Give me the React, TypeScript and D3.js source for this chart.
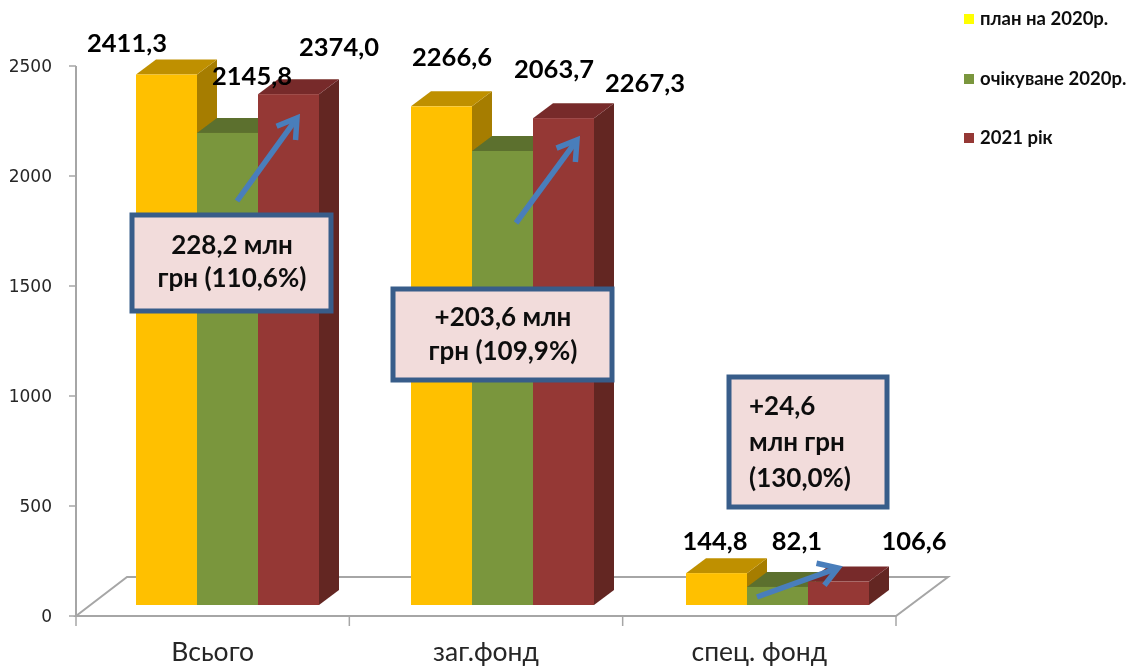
import React from "react";
import * as d3 from "d3";

const categories = ["Всього", "заг.фонд", "спец. фонд"];
const seriesNames = ["план на 2020р.", "очікуване 2020р.", "2021 рік"];
const planValues = [2411.3, 2266.6, 144.8];
const expectedValues = [2145.8, 2063.7, 82.1];
// Heights as drawn in the picture (the red bars stand lower than their printed labels)
const year2021Values = [2322, 2213, 106.6];
const planLabels = ["2411,3", "2266,6", "144,8"];
const expectedLabels = ["2145,8", "2063,7", "82,1"];
const year2021Labels = ["2374,0", "2267,3", "106,6"];
const yTicks = [0, 500, 1000, 1500, 2000, 2500];

const frontColors = ["#ffc000", "#7a963c", "#953735"];
const topColors = ["#bf9000", "#5c702d", "#772c2a"];
const sideColors = ["#a67d00", "#4f6127", "#632523"];
const legendColors = ["#ffff00", "#7a963c", "#953735"];

const labelPos = [
  [[127, 52], [252, 85], [339, 56]],
  [[452, 66], [554, 78], [645, 92]],
  [[715, 550], [797, 550], [914, 550]],
];
const legendY = [19, 79, 138];
const boxes = [
  { x: 132, y: 215, w: 199, h: 96, lines: ["228,2 млн", "грн (110,6%)"], tx: 232, anchor: "middle", ly: [254, 287] },
  { x: 393, y: 289, w: 219, h: 91, lines: ["+203,6 млн", "грн (109,9%)"], tx: 503, anchor: "middle", ly: [326, 360] },
  { x: 729, y: 377, w: 158, h: 130, lines: ["+24,6", "млн грн", "(130,0%)"], tx: 749, anchor: "start", ly: [415, 451, 487] },
];
const arrows = [
  { from: [237, 201], to: [297, 118] },
  { from: [516, 223], to: [577, 140] },
  { from: [757, 597], to: [838, 568] },
];

const FONT = "Lato, Carlito, sans-serif";
const DX = 20;
const DY = -15;
const FLOOR_LIFT = 11;

export default function App() {
  const y = d3.scaleLinear().domain([0, 2500]).range([616, 66]);
  const axisX = d3.scaleLinear().domain([0, 3]).range([76, 896]);
  const group = d3.scaleBand().domain(categories).range([136, 961]);
  const inner = d3.scaleBand().domain(seriesNames).range([0, 183]);
  const series = [planValues, expectedValues, year2021Values];
  const allLabels = [planLabels, expectedLabels, year2021Labels];
  const base = y(0) - FLOOR_LIFT;
  const w = inner.bandwidth();
  const poly = (pts: number[][]) => d3.line()(pts as [number, number][]) + "Z";

  return (
    <svg width={1130} height={671} style={{ position: "absolute", left: 0, top: 0, background: "#fff" }}>
      <defs>
        <filter id="soft" x="-5%" y="-5%" width="110%" height="110%">
          <feGaussianBlur stdDeviation="0.45" />
        </filter>
      </defs>
      <g filter="url(#soft)">
        {/* floor */}
        <path
          d={poly([[axisX(0), y(0)], [axisX(0) + 51, y(0) - 39], [axisX(3) + 52, y(0) - 39], [axisX(3), y(0)]])}
          fill="#fff"
          stroke="#a6a6a6"
          strokeWidth={2}
        />
        {/* y axis */}
        <line x1={axisX(0)} x2={axisX(0)} y1={y(0)} y2={y(2500)} stroke="#a6a6a6" strokeWidth={2} />
        {yTicks.map((t) => (
          <g key={t}>
            <line x1={69} x2={axisX(0)} y1={y(t)} y2={y(t)} stroke="#a6a6a6" strokeWidth={1.5} />
            <text x={52} y={y(t) + 6} textAnchor="end" fontFamily="DejaVu Sans" fontSize={17} fill="#262626">{t}</text>
          </g>
        ))}
        {/* x ticks and categories */}
        {d3.range(4).map((i) => (
          <line key={i} x1={axisX(i)} x2={axisX(i)} y1={y(0)} y2={y(0) + 10} stroke="#a6a6a6" strokeWidth={1.5} />
        ))}
        {categories.map((c, i) => (
          <text key={c} x={axisX(i + 0.5)} y={661} textAnchor="middle" fontFamily={FONT} fontSize={26.5} fill="#262626">{c}</text>
        ))}
        {/* bars, back to front: side, top, then front */}
        {categories.map((c, ci) =>
          seriesNames.map((s, si) => {
            const x0 = (group(c) as number) + (inner(s) as number);
            const x1 = x0 + w;
            const top = y(series[si][ci]) - FLOOR_LIFT;
            return (
              <g key={c + s}>
                <path d={poly([[x1, top], [x1 + DX, top + DY], [x1 + DX, base + DY], [x1, base]])} fill={sideColors[si]} />
                <path d={poly([[x0, top], [x0 + DX, top + DY], [x1 + DX, top + DY], [x1, top]])} fill={topColors[si]} />
                <rect x={x0} y={top} width={w} height={base - top} fill={frontColors[si]} />
              </g>
            );
          })
        )}
        {/* arrows */}
        {arrows.map((a, i) => {
          const ang = Math.atan2(a.to[1] - a.from[1], a.to[0] - a.from[0]);
          const h = 22;
          const wing = (d: number) => [a.to[0] - h * Math.cos(ang + d), a.to[1] - h * Math.sin(ang + d)];
          return (
            <g key={i} fill="none" stroke="#4a7ebb" strokeWidth={5.5}>
              <line x1={a.from[0]} y1={a.from[1]} x2={a.to[0] - 2 * Math.cos(ang)} y2={a.to[1] - 2 * Math.sin(ang)} />
              <path d={d3.line()([wing(0.56), a.to, wing(-0.56)] as [number, number][]) as string} strokeLinejoin="miter" />
            </g>
          );
        })}
        {/* callouts */}
        {boxes.map((b, i) => (
          <g key={i}>
            <rect x={b.x} y={b.y} width={b.w} height={b.h} fill="#f2dcdb" stroke="#385d8a" strokeWidth={5} />
            {b.lines.map((l, j) => (
              <text key={j} x={b.tx} y={b.ly[j]} textAnchor={b.anchor as any} fontFamily={FONT} fontWeight={700} fontSize={26} fill="#111">{l}</text>
            ))}
          </g>
        ))}
        {/* data labels */}
        {allLabels.map((arr, si) =>
          arr.map((l, ci) => (
            <text key={si + "-" + ci} x={labelPos[ci][si][0]} y={labelPos[ci][si][1]} textAnchor="middle" fontFamily={FONT} fontWeight={700} fontSize={25.5} fill="#000">{l}</text>
          ))
        )}
        {/* legend */}
        {seriesNames.map((s, i) => (
          <g key={s}>
            <rect x={964} y={legendY[i] - 5} width={10} height={10} fill={legendColors[i]} />
            <text x={980} y={legendY[i] + 6} fontFamily={FONT} fontWeight={700} fontSize={18.5} fill="#111">{s}</text>
          </g>
        ))}
      </g>
    </svg>
  );
}
